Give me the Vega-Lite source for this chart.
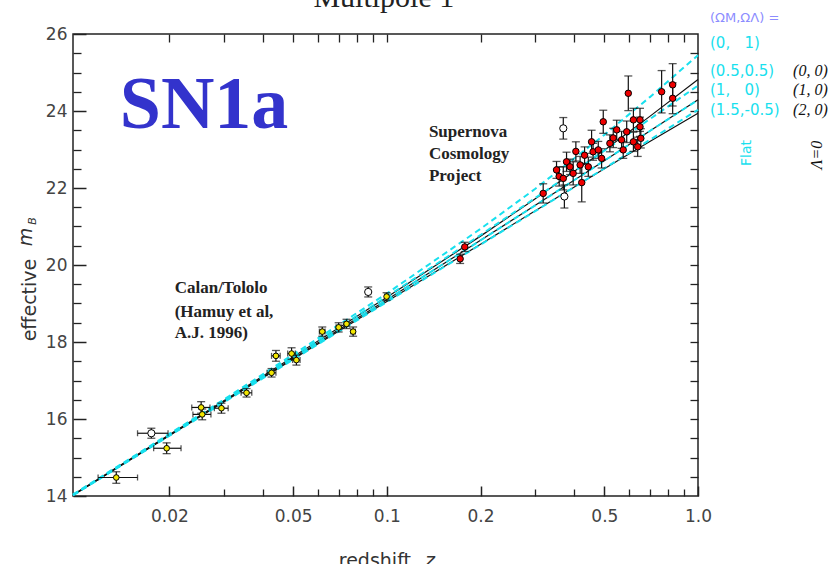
{
  "$schema": "https://vega.github.io/schema/vega-lite/v6.json",
  "width": 625,
  "height": 462,
  "autosize": {"type": "none"},
  "padding": {"left": 73, "top": 34, "right": 139, "bottom": 68},
  "background": "white",
  "config": {"view": {"stroke": "#222", "strokeWidth": 1.5}},
  "datasets": {
    "solid": [
      {"model": "B", "z": 0.0098, "m": 14.03}, {"model": "B", "z": 0.03, "m": 16.48}, {"model": "B", "z": 0.1, "m": 19.16}, {"model": "B", "z": 0.2, "m": 20.75}, {"model": "B", "z": 0.3, "m": 21.72}, {"model": "B", "z": 0.5, "m": 22.98}, {"model": "B", "z": 0.7, "m": 23.86}, {"model": "B", "z": 1.0, "m": 24.82},
      {"model": "D", "z": 0.0098, "m": 14.02}, {"model": "D", "z": 0.03, "m": 16.46}, {"model": "D", "z": 0.1, "m": 19.10}, {"model": "D", "z": 0.2, "m": 20.64}, {"model": "D", "z": 0.3, "m": 21.55}, {"model": "D", "z": 0.5, "m": 22.71}, {"model": "D", "z": 0.7, "m": 23.48}, {"model": "D", "z": 1.0, "m": 24.29},
      {"model": "F", "z": 0.0098, "m": 14.02}, {"model": "F", "z": 0.03, "m": 16.45}, {"model": "F", "z": 0.1, "m": 19.05}, {"model": "F", "z": 0.2, "m": 20.54}, {"model": "F", "z": 0.3, "m": 21.41}, {"model": "F", "z": 0.5, "m": 22.50}, {"model": "F", "z": 0.7, "m": 23.21}, {"model": "F", "z": 1.0, "m": 23.94}
    ],
    "dashed": [
      {"model": "A", "z": 0.0098, "m": 14.04}, {"model": "A", "z": 0.03, "m": 16.51}, {"model": "A", "z": 0.1, "m": 19.26}, {"model": "A", "z": 0.2, "m": 20.94}, {"model": "A", "z": 0.3, "m": 21.98}, {"model": "A", "z": 0.5, "m": 23.38}, {"model": "A", "z": 0.7, "m": 24.36}, {"model": "A", "z": 1.0, "m": 25.45},
      {"model": "C", "z": 0.0098, "m": 14.03}, {"model": "C", "z": 0.03, "m": 16.49}, {"model": "C", "z": 0.1, "m": 19.18}, {"model": "C", "z": 0.2, "m": 20.78}, {"model": "C", "z": 0.3, "m": 21.74}, {"model": "C", "z": 0.5, "m": 22.97}, {"model": "C", "z": 0.7, "m": 23.79}, {"model": "C", "z": 1.0, "m": 24.66},
      {"model": "D", "z": 0.0098, "m": 14.02}, {"model": "D", "z": 0.03, "m": 16.46}, {"model": "D", "z": 0.1, "m": 19.10}, {"model": "D", "z": 0.2, "m": 20.64}, {"model": "D", "z": 0.3, "m": 21.55}, {"model": "D", "z": 0.5, "m": 22.71}, {"model": "D", "z": 0.7, "m": 23.48}, {"model": "D", "z": 1.0, "m": 24.29},
      {"model": "E", "z": 0.0098, "m": 14.02}, {"model": "E", "z": 0.03, "m": 16.44}, {"model": "E", "z": 0.1, "m": 19.04}, {"model": "E", "z": 0.2, "m": 20.53}, {"model": "E", "z": 0.3, "m": 21.40}, {"model": "E", "z": 0.5, "m": 22.51}, {"model": "E", "z": 0.7, "m": 23.25}, {"model": "E", "z": 1.0, "m": 24.03}
    ],
    "pts": [
      {"z": 0.0135, "m": 14.48, "lo": 14.33, "hi": 14.63, "zl": 0.0118, "zh": 0.0158, "k": "CT"},
      {"z": 0.0175, "m": 15.63, "lo": 15.5, "hi": 15.76, "zl": 0.0158, "zh": 0.0198, "k": "open"},
      {"z": 0.0196, "m": 15.24, "lo": 15.1, "hi": 15.38, "zl": 0.0178, "zh": 0.0218, "k": "CT"},
      {"z": 0.0253, "m": 16.3, "lo": 16.15, "hi": 16.45, "zl": 0.0236, "zh": 0.027, "k": "CT"},
      {"z": 0.0255, "m": 16.12, "lo": 15.98, "hi": 16.26, "zl": 0.0238, "zh": 0.0272, "k": "CT"},
      {"z": 0.0294, "m": 16.28, "lo": 16.15, "hi": 16.41, "zl": 0.0279, "zh": 0.0309, "k": "CT"},
      {"z": 0.0354, "m": 16.68, "lo": 16.57, "hi": 16.79, "zl": 0.034, "zh": 0.0368, "k": "CT"},
      {"z": 0.0426, "m": 17.2, "lo": 17.09, "hi": 17.31, "zl": 0.0412, "zh": 0.044, "k": "CT"},
      {"z": 0.044, "m": 17.64, "lo": 17.5, "hi": 17.78, "zl": 0.0426, "zh": 0.0454, "k": "CT"},
      {"z": 0.0494, "m": 17.7, "lo": 17.55, "hi": 17.85, "zl": 0.048, "zh": 0.0508, "k": "CT"},
      {"z": 0.0512, "m": 17.53, "lo": 17.4, "hi": 17.66, "zl": 0.0498, "zh": 0.0526, "k": "CT"},
      {"z": 0.062, "m": 18.27, "lo": 18.15, "hi": 18.39, "zl": 0.0607, "zh": 0.0633, "k": "CT"},
      {"z": 0.07, "m": 18.38, "lo": 18.26, "hi": 18.5, "zl": 0.0687, "zh": 0.0713, "k": "CT"},
      {"z": 0.0742, "m": 18.47, "lo": 18.35, "hi": 18.59, "zl": 0.0729, "zh": 0.0755, "k": "CT"},
      {"z": 0.0779, "m": 18.27, "lo": 18.15, "hi": 18.39, "zl": 0.0766, "zh": 0.0792, "k": "CT"},
      {"z": 0.0871, "m": 19.3, "lo": 19.17, "hi": 19.43, "zl": 0.0858, "zh": 0.0884, "k": "open"},
      {"z": 0.0998, "m": 19.18, "lo": 19.08, "hi": 19.28, "zl": 0.0985, "zh": 0.1011, "k": "CT"},
      {"z": 0.172, "m": 20.16, "lo": 20.04, "hi": 20.28, "k": "SCP"},
      {"z": 0.178, "m": 20.47, "lo": 20.35, "hi": 20.59, "k": "SCP"},
      {"z": 0.318, "m": 21.86, "lo": 21.61, "hi": 22.11, "k": "SCP"},
      {"z": 0.351, "m": 22.47, "lo": 22.25, "hi": 22.69, "k": "SCP"},
      {"z": 0.358, "m": 22.3, "lo": 22.05, "hi": 22.55, "k": "SCP"},
      {"z": 0.369, "m": 22.25, "lo": 21.95, "hi": 22.55, "k": "SCP"},
      {"z": 0.369, "m": 23.55, "lo": 23.27, "hi": 23.83, "k": "open"},
      {"z": 0.372, "m": 21.78, "lo": 21.48, "hi": 22.08, "k": "open"},
      {"z": 0.378, "m": 22.68, "lo": 22.43, "hi": 22.93, "k": "SCP"},
      {"z": 0.388, "m": 22.55, "lo": 22.35, "hi": 22.75, "k": "SCP"},
      {"z": 0.397, "m": 22.38, "lo": 22.08, "hi": 22.68, "k": "SCP"},
      {"z": 0.405, "m": 22.95, "lo": 22.7, "hi": 23.2, "k": "SCP"},
      {"z": 0.418, "m": 22.6, "lo": 22.38, "hi": 22.82, "k": "SCP"},
      {"z": 0.423, "m": 22.14, "lo": 21.64, "hi": 22.64, "k": "SCP"},
      {"z": 0.432, "m": 22.85, "lo": 22.63, "hi": 23.07, "k": "SCP"},
      {"z": 0.444, "m": 22.55, "lo": 22.3, "hi": 22.8, "k": "SCP"},
      {"z": 0.455, "m": 23.2, "lo": 22.9, "hi": 23.5, "k": "SCP"},
      {"z": 0.46, "m": 22.94, "lo": 22.72, "hi": 23.16, "k": "SCP"},
      {"z": 0.478, "m": 22.99, "lo": 22.77, "hi": 23.21, "k": "SCP"},
      {"z": 0.49, "m": 22.77, "lo": 22.52, "hi": 23.02, "k": "SCP"},
      {"z": 0.496, "m": 23.72, "lo": 23.42, "hi": 24.02, "k": "SCP"},
      {"z": 0.521, "m": 23.16, "lo": 22.94, "hi": 23.38, "k": "SCP"},
      {"z": 0.534, "m": 23.3, "lo": 23.05, "hi": 23.55, "k": "SCP"},
      {"z": 0.548, "m": 23.51, "lo": 23.26, "hi": 23.76, "k": "SCP"},
      {"z": 0.568, "m": 23.25, "lo": 23.03, "hi": 23.47, "k": "SCP"},
      {"z": 0.575, "m": 22.99, "lo": 22.77, "hi": 23.21, "k": "SCP"},
      {"z": 0.59, "m": 23.46, "lo": 23.18, "hi": 23.74, "k": "SCP"},
      {"z": 0.597, "m": 24.46, "lo": 24.01, "hi": 24.91, "k": "SCP"},
      {"z": 0.62, "m": 23.77, "lo": 23.47, "hi": 24.07, "k": "SCP"},
      {"z": 0.62, "m": 23.2, "lo": 22.95, "hi": 23.45, "k": "SCP"},
      {"z": 0.64, "m": 23.07, "lo": 22.82, "hi": 23.32, "k": "SCP"},
      {"z": 0.651, "m": 23.77, "lo": 23.47, "hi": 24.07, "k": "SCP"},
      {"z": 0.651, "m": 23.59, "lo": 23.34, "hi": 23.84, "k": "SCP"},
      {"z": 0.655, "m": 23.29, "lo": 23.04, "hi": 23.54, "k": "SCP"},
      {"z": 0.764, "m": 24.5, "lo": 23.95, "hi": 25.05, "k": "SCP"},
      {"z": 0.829, "m": 24.68, "lo": 24.13, "hi": 25.23, "k": "SCP"},
      {"z": 0.829, "m": 24.33, "lo": 23.93, "hi": 24.73, "k": "SCP"}
    ]
  },
  "resolve": {"axis": {"x": "independent", "y": "independent"}},
  "layer": [
    {
      "data": {"name": "solid"},
      "mark": {"type": "line", "color": "#111", "strokeWidth": 1.2},
      "encoding": {
        "x": {"field": "z", "type": "quantitative", "scale": {"type": "log", "domain": [0.0098, 1], "nice": false},
          "axis": {"orient": "bottom", "values": [0.02, 0.05, 0.1, 0.2, 0.5, 1], "tickSize": -10, "tickColor": "#222", "tickWidth": 1.5, "labelExpr": "datum.value >= 1 ? '1.0' : format(datum.value, '.2~f')", "labelFont": "DejaVu Sans", "labelFontSize": 17, "labelColor": "#444", "labelPadding": 22, "domain": false, "grid": false, "title": null, "labelFlush": false, "labelOverlap": false}},
        "y": {"field": "m", "type": "quantitative", "scale": {"domain": [14, 26], "nice": false, "zero": false},
          "axis": {"orient": "left", "values": [14, 16, 18, 20, 22, 24, 26], "tickSize": -13, "tickColor": "#222", "tickWidth": 1.5, "labelFont": "DejaVu Sans", "labelFontSize": 17, "labelColor": "#444", "labelPadding": 19, "domain": false, "grid": false, "title": null, "labelFlush": false, "labelOverlap": false}},
        "detail": {"field": "model", "type": "nominal"}
      }
    },
    {
      "data": {"name": "dashed"},
      "mark": {"type": "line", "color": "#18e0ee", "strokeWidth": 2, "strokeDash": [6, 4]},
      "encoding": {
        "x": {"field": "z", "type": "quantitative", "scale": {"type": "log", "domain": [0.0098, 1], "nice": false},
          "axis": {"orient": "bottom", "values": [0.03, 0.04, 0.06, 0.07, 0.08, 0.09, 0.3, 0.4, 0.6, 0.7, 0.8, 0.9], "tickSize": -7, "tickColor": "#222", "tickWidth": 1.3, "labels": false, "domain": false, "grid": false, "title": null}},
        "y": {"field": "m", "type": "quantitative", "scale": {"domain": [14, 26], "nice": false, "zero": false},
          "axis": {"orient": "left", "values": [14.5, 15, 15.5, 16.5, 17, 17.5, 18.5, 19, 19.5, 20.5, 21, 21.5, 22.5, 23, 23.5, 24.5, 25, 25.5], "tickSize": -8, "tickColor": "#222", "tickWidth": 1.3, "labels": false, "domain": false, "grid": false, "title": null}},
        "detail": {"field": "model", "type": "nominal"}
      }
    },
    {
      "data": {"name": "pts"},
      "mark": {"type": "rule", "color": "#111", "strokeWidth": 1.2},
      "encoding": {
        "x": {"field": "z", "type": "quantitative", "scale": {"type": "log", "domain": [0.0098, 1], "nice": false},
          "axis": {"orient": "top", "values": [0.02, 0.03, 0.04, 0.05, 0.06, 0.07, 0.08, 0.09, 0.1, 0.2, 0.3, 0.4, 0.5, 0.6, 0.7, 0.8, 0.9], "tickSize": -8, "tickColor": "#222", "tickWidth": 1.3, "labels": false, "domain": false, "grid": false, "title": null}},
        "y": {"field": "lo", "type": "quantitative", "scale": {"domain": [14, 26], "nice": false, "zero": false},
          "axis": {"orient": "right", "values": [14.5, 15, 15.5, 16, 16.5, 17, 17.5, 18, 18.5, 19, 19.5, 20, 20.5, 21, 21.5, 22, 22.5, 23, 23.5, 24, 24.5, 25, 25.5], "tickSize": -8, "tickColor": "#222", "tickWidth": 1.3, "labels": false, "domain": false, "grid": false, "title": null}},
        "y2": {"field": "hi"}
      }
    },
    {
      "data": {"name": "pts"},
      "transform": [{"filter": "isValid(datum.zl)"}],
      "mark": {"type": "rule", "color": "#111", "strokeWidth": 1.2},
      "encoding": {
        "x": {"field": "zl", "type": "quantitative", "scale": {"type": "log", "domain": [0.0098, 1], "nice": false}, "axis": null},
        "x2": {"field": "zh"},
        "y": {"field": "m", "type": "quantitative", "scale": {"domain": [14, 26], "nice": false, "zero": false}, "axis": null}
      }
    },
    {
      "data": {"name": "pts"},
      "mark": {"type": "tick", "orient": "horizontal", "size": 8, "thickness": 1.3, "color": "#111"},
      "encoding": {
        "x": {"field": "z", "type": "quantitative", "scale": {"type": "log", "domain": [0.0098, 1], "nice": false}, "axis": null},
        "y": {"field": "lo", "type": "quantitative", "scale": {"domain": [14, 26], "nice": false, "zero": false}, "axis": null}
      }
    },
    {
      "data": {"name": "pts"},
      "mark": {"type": "tick", "orient": "horizontal", "size": 8, "thickness": 1.3, "color": "#111"},
      "encoding": {
        "x": {"field": "z", "type": "quantitative", "scale": {"type": "log", "domain": [0.0098, 1], "nice": false}, "axis": null},
        "y": {"field": "hi", "type": "quantitative", "scale": {"domain": [14, 26], "nice": false, "zero": false}, "axis": null}
      }
    },
    {
      "data": {"name": "pts"},
      "transform": [{"filter": "isValid(datum.zl)"}],
      "mark": {"type": "tick", "orient": "vertical", "size": 6, "thickness": 1.3, "color": "#111"},
      "encoding": {
        "x": {"field": "zl", "type": "quantitative", "scale": {"type": "log", "domain": [0.0098, 1], "nice": false}, "axis": null},
        "y": {"field": "m", "type": "quantitative", "scale": {"domain": [14, 26], "nice": false, "zero": false}, "axis": null}
      }
    },
    {
      "data": {"name": "pts"},
      "transform": [{"filter": "isValid(datum.zh)"}],
      "mark": {"type": "tick", "orient": "vertical", "size": 6, "thickness": 1.3, "color": "#111"},
      "encoding": {
        "x": {"field": "zh", "type": "quantitative", "scale": {"type": "log", "domain": [0.0098, 1], "nice": false}, "axis": null},
        "y": {"field": "m", "type": "quantitative", "scale": {"domain": [14, 26], "nice": false, "zero": false}, "axis": null}
      }
    },
    {
      "data": {"name": "pts"},
      "mark": {"type": "circle", "stroke": "#000", "strokeWidth": 1, "opacity": 1},
      "encoding": {
        "x": {"field": "z", "type": "quantitative", "scale": {"type": "log", "domain": [0.0098, 1], "nice": false}, "axis": null},
        "y": {"field": "m", "type": "quantitative", "scale": {"domain": [14, 26], "nice": false, "zero": false}, "axis": null},
        "fill": {"field": "k", "type": "nominal", "scale": {"domain": ["CT", "SCP", "open"], "range": ["#f2e600", "#ee0000", "#ffffff"]}, "legend": null},
        "size": {"field": "k", "type": "ordinal", "scale": {"domain": ["CT", "SCP", "open"], "range": [32, 52, 32]}, "legend": null}
      }
    },
    {
      "data": {"values": [{"z": 0.01385, "m": 23.56, "t": "SN1a"}]},
      "mark": {"type": "text", "font": "Liberation Serif", "fontWeight": "bold", "fontSize": 74, "color": "#3333cc", "align": "left", "baseline": "alphabetic"},
      "encoding": {
        "x": {"field": "z", "type": "quantitative", "scale": {"type": "log", "domain": [0.0098, 1], "nice": false}, "axis": null},
        "y": {"field": "m", "type": "quantitative", "scale": {"domain": [14, 26], "nice": false, "zero": false}, "axis": null},
        "text": {"field": "t"}
      }
    },
    {
      "data": {"values": [{"z": 0.0978, "m": 26.7, "t": "Multipole 1"}]},
      "mark": {"type": "text", "font": "Liberation Serif", "fontSize": 30, "color": "#222", "align": "center", "baseline": "alphabetic"},
      "encoding": {
        "x": {"field": "z", "type": "quantitative", "scale": {"type": "log", "domain": [0.0098, 1], "nice": false}, "axis": null},
        "y": {"field": "m", "type": "quantitative", "scale": {"domain": [14, 26], "nice": false, "zero": false}, "axis": null},
        "text": {"field": "t"}
      }
    },
    {
      "data": {"values": [
        {"z": 0.1365, "m": 23.455, "t": "Supernova"},
        {"z": 0.1365, "m": 22.883, "t": "Cosmology"},
        {"z": 0.1365, "m": 22.312, "t": "Project"},
        {"z": 0.0208, "m": 19.403, "t": "Calan/Tololo"},
        {"z": 0.0208, "m": 18.779, "t": "(Hamuy et al,"},
        {"z": 0.0208, "m": 18.234, "t": "A.J. 1996)"}
      ]},
      "mark": {"type": "text", "font": "Liberation Serif", "fontWeight": "bold", "fontSize": 17, "color": "#222", "align": "left", "baseline": "middle"},
      "encoding": {
        "x": {"field": "z", "type": "quantitative", "scale": {"type": "log", "domain": [0.0098, 1], "nice": false}, "axis": null},
        "y": {"field": "m", "type": "quantitative", "scale": {"domain": [14, 26], "nice": false, "zero": false}, "axis": null},
        "text": {"field": "t"}
      }
    },
    {
      "data": {"values": [{"z": 1.093, "m": 26.415, "t": "(ΩM,ΩΛ) ="}]},
      "mark": {"type": "text", "font": "DejaVu Sans", "fontSize": 13, "color": "#8c8cff", "align": "left", "baseline": "middle"},
      "encoding": {
        "x": {"field": "z", "type": "quantitative", "scale": {"type": "log", "domain": [0.0098, 1], "nice": false}, "axis": null},
        "y": {"field": "m", "type": "quantitative", "scale": {"domain": [14, 26], "nice": false, "zero": false}, "axis": null},
        "text": {"field": "t"}
      }
    },
    {
      "data": {"values": [
        {"z": 1.093, "m": 25.766, "t": "(0,\u00a0\u00a0\u00a01)"},
        {"z": 1.093, "m": 25.039, "t": "(0.5,0.5)"},
        {"z": 1.093, "m": 24.545, "t": "(1,\u00a0\u00a0\u00a00)"},
        {"z": 1.093, "m": 24.026, "t": "(1.5,-0.5)"}
      ]},
      "mark": {"type": "text", "font": "DejaVu Sans", "fontSize": 15, "color": "#18e0ee", "align": "left", "baseline": "middle"},
      "encoding": {
        "x": {"field": "z", "type": "quantitative", "scale": {"type": "log", "domain": [0.0098, 1], "nice": false}, "axis": null},
        "y": {"field": "m", "type": "quantitative", "scale": {"domain": [14, 26], "nice": false, "zero": false}, "axis": null},
        "text": {"field": "t"}
      }
    },
    {
      "data": {"values": [
        {"z": 2.021, "m": 25.039, "t": "(0, 0)"},
        {"z": 2.021, "m": 24.545, "t": "(1, 0)"},
        {"z": 2.021, "m": 24.026, "t": "(2, 0)"}
      ]},
      "mark": {"type": "text", "font": "Liberation Serif", "fontStyle": "italic", "fontSize": 16, "color": "#111", "align": "left", "baseline": "middle"},
      "encoding": {
        "x": {"field": "z", "type": "quantitative", "scale": {"type": "log", "domain": [0.0098, 1], "nice": false}, "axis": null},
        "y": {"field": "m", "type": "quantitative", "scale": {"domain": [14, 26], "nice": false, "zero": false}, "axis": null},
        "text": {"field": "t"}
      }
    },
    {
      "data": {"values": [{"z": 1.438, "m": 22.909, "t": "Flat"}]},
      "mark": {"type": "text", "font": "DejaVu Sans", "fontSize": 14, "color": "#18e0ee", "align": "center", "baseline": "middle", "angle": 270},
      "encoding": {
        "x": {"field": "z", "type": "quantitative", "scale": {"type": "log", "domain": [0.0098, 1], "nice": false}, "axis": null},
        "y": {"field": "m", "type": "quantitative", "scale": {"domain": [14, 26], "nice": false, "zero": false}, "axis": null},
        "text": {"field": "t"}
      }
    },
    {
      "data": {"values": [{"z": 2.413, "m": 22.857, "t": "Λ=0"}]},
      "mark": {"type": "text", "font": "Liberation Serif", "fontStyle": "italic", "fontSize": 16, "color": "#111", "align": "center", "baseline": "middle", "angle": 270},
      "encoding": {
        "x": {"field": "z", "type": "quantitative", "scale": {"type": "log", "domain": [0.0098, 1], "nice": false}, "axis": null},
        "y": {"field": "m", "type": "quantitative", "scale": {"domain": [14, 26], "nice": false, "zero": false}, "axis": null},
        "text": {"field": "t"}
      }
    },
    {
      "data": {"values": [{"z": 0.00711, "m": 19.09, "t": "effective"}]},
      "mark": {"type": "text", "font": "DejaVu Sans", "fontSize": 19, "color": "#333", "align": "center", "baseline": "middle", "angle": 270},
      "encoding": {
        "x": {"field": "z", "type": "quantitative", "scale": {"type": "log", "domain": [0.0098, 1], "nice": false}, "axis": null},
        "y": {"field": "m", "type": "quantitative", "scale": {"domain": [14, 26], "nice": false, "zero": false}, "axis": null},
        "text": {"field": "t"}
      }
    },
    {
      "data": {"values": [{"z": 0.0069, "m": 20.727, "t": "m"}]},
      "mark": {"type": "text", "font": "DejaVu Sans", "fontStyle": "italic", "fontSize": 19, "color": "#333", "align": "center", "baseline": "middle", "angle": 270},
      "encoding": {
        "x": {"field": "z", "type": "quantitative", "scale": {"type": "log", "domain": [0.0098, 1], "nice": false}, "axis": null},
        "y": {"field": "m", "type": "quantitative", "scale": {"domain": [14, 26], "nice": false, "zero": false}, "axis": null},
        "text": {"field": "t"}
      }
    },
    {
      "data": {"values": [{"z": 0.00727, "m": 21.143, "t": "B"}]},
      "mark": {"type": "text", "font": "DejaVu Sans", "fontStyle": "italic", "fontSize": 11, "color": "#333", "align": "center", "baseline": "middle", "angle": 270},
      "encoding": {
        "x": {"field": "z", "type": "quantitative", "scale": {"type": "log", "domain": [0.0098, 1], "nice": false}, "axis": null},
        "y": {"field": "m", "type": "quantitative", "scale": {"domain": [14, 26], "nice": false, "zero": false}, "axis": null},
        "text": {"field": "t"}
      }
    },
    {
      "data": {"values": [{"z": 0.0915, "m": 12.156, "t": "redshift"}]},
      "mark": {"type": "text", "font": "DejaVu Sans", "fontSize": 19, "color": "#333", "align": "center", "baseline": "alphabetic"},
      "encoding": {
        "x": {"field": "z", "type": "quantitative", "scale": {"type": "log", "domain": [0.0098, 1], "nice": false}, "axis": null},
        "y": {"field": "m", "type": "quantitative", "scale": {"domain": [14, 26], "nice": false, "zero": false}, "axis": null},
        "text": {"field": "t"}
      }
    },
    {
      "data": {"values": [{"z": 0.1375, "m": 12.156, "t": "z"}]},
      "mark": {"type": "text", "font": "DejaVu Sans", "fontStyle": "italic", "fontSize": 19, "color": "#333", "align": "center", "baseline": "alphabetic"},
      "encoding": {
        "x": {"field": "z", "type": "quantitative", "scale": {"type": "log", "domain": [0.0098, 1], "nice": false}, "axis": null},
        "y": {"field": "m", "type": "quantitative", "scale": {"domain": [14, 26], "nice": false, "zero": false}, "axis": null},
        "text": {"field": "t"}
      }
    }
  ]
}
